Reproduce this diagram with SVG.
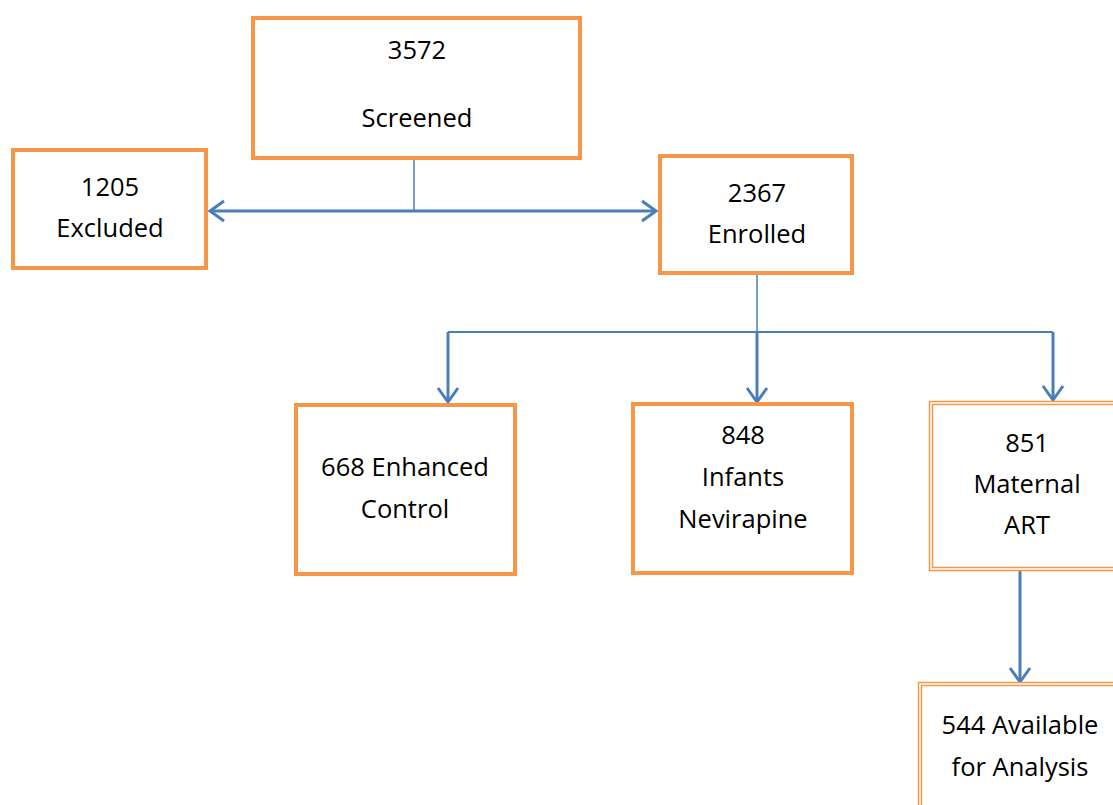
<svg xmlns="http://www.w3.org/2000/svg" width="1113" height="805" viewBox="0 0 1113 805">
<style>
.box{fill:#fff;stroke:#F79646;stroke-width:4}
.dbl{fill:none;stroke:#F79646;stroke-width:1.5}
.t{font-family:"Open Sans","Noto Sans",sans-serif;font-size:25.5px;fill:#000;text-anchor:middle}
.c{fill:none;stroke:#4A7EBB}
</style>
<defs>
<marker id="ah" markerUnits="userSpaceOnUse" viewBox="-16 -12 20 24" refX="0" refY="0" markerWidth="20" markerHeight="24" orient="auto">
<path d="M-14,-10 L0,0 L-14,10" fill="none" stroke="#4A7EBB" stroke-width="3"/>
</marker>
</defs>
<rect width="1113" height="805" fill="#fff"/>
<g id="connectors">
<line class="c" x1="414" y1="159" x2="414" y2="211" stroke-width="1.5"/>
<line class="c" x1="414" y1="211" x2="210" y2="211" stroke-width="3" marker-end="url(#ah)"/>
<line class="c" x1="414" y1="211" x2="656" y2="211" stroke-width="3" marker-end="url(#ah)"/>
<line class="c" x1="757" y1="274" x2="757" y2="332" stroke-width="1.5"/>
<polyline class="c" points="448,332 1053,332" stroke-width="2"/>
<line class="c" x1="448" y1="332" x2="448" y2="402" stroke-width="3" marker-end="url(#ah)"/>
<line class="c" x1="757" y1="332" x2="757" y2="402" stroke-width="3" marker-end="url(#ah)"/>
<line class="c" x1="1053" y1="332" x2="1053" y2="400" stroke-width="3" marker-end="url(#ah)"/>
<line class="c" x1="1020" y1="571" x2="1020" y2="682" stroke-width="3" marker-end="url(#ah)"/>
</g>
<g id="screened">
<rect class="box" x="253" y="18" width="327" height="140"/>
<text class="t" x="417" y="59">3572</text>
<text class="t" x="417" y="127">Screened</text>
</g>
<g id="excluded">
<rect class="box" x="13" y="150" width="193" height="118"/>
<text class="t" x="110" y="196">1205</text>
<text class="t" x="110" y="237">Excluded</text>
</g>
<g id="enrolled">
<rect class="box" x="660" y="156" width="192" height="117"/>
<text class="t" x="757" y="202">2367</text>
<text class="t" x="757" y="243">Enrolled</text>
</g>
<g id="enhanced">
<rect class="box" x="296" y="405" width="219" height="169"/>
<text class="t" x="405" y="476">668 Enhanced</text>
<text class="t" x="405" y="518">Control</text>
</g>
<g id="infants">
<rect class="box" x="633" y="404" width="219" height="169"/>
<text class="t" x="743" y="444">848</text>
<text class="t" x="743" y="486">Infants</text>
<text class="t" x="743" y="528">Nevirapine</text>
</g>
<g id="maternal">
<rect x="929" y="401" width="200" height="170" fill="#fff"/>
<rect class="dbl" x="929.5" y="401.5" width="200" height="169"/>
<rect class="dbl" x="932.5" y="404.5" width="200" height="163"/>
<text class="t" x="1027" y="452">851</text>
<text class="t" x="1027" y="493">Maternal</text>
<text class="t" x="1027" y="534">ART</text>
</g>
<g id="available">
<rect x="918" y="682" width="210" height="140" fill="#fff"/>
<rect class="dbl" x="918.5" y="682.5" width="210" height="140"/>
<rect class="dbl" x="921.5" y="685.5" width="210" height="140"/>
<text class="t" x="1020" y="734">544 Available</text>
<text class="t" x="1020" y="776">for Analysis</text>
</g>
</svg>
